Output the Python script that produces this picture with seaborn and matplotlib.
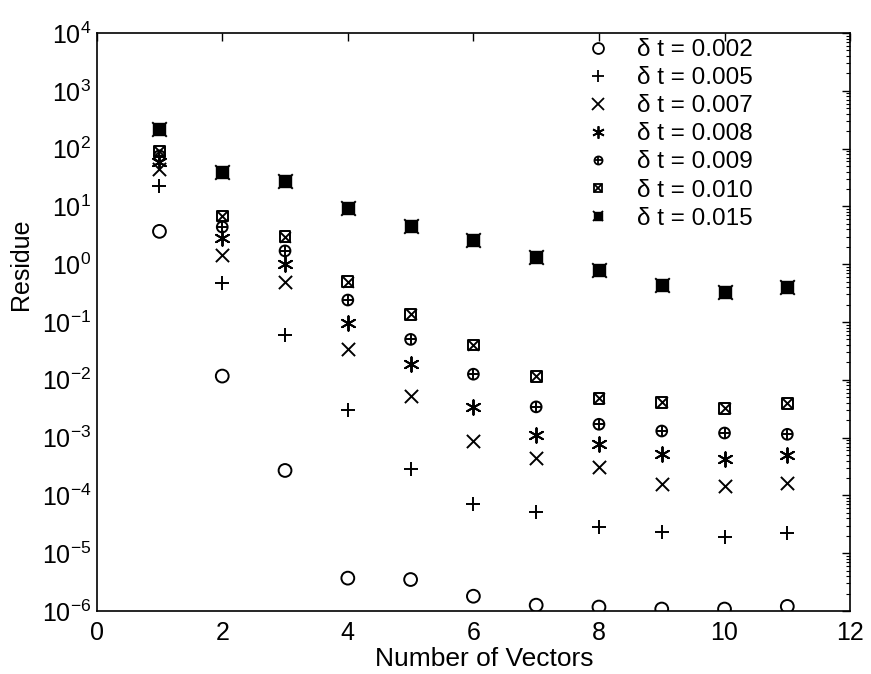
import numpy as np
import matplotlib
matplotlib.use('Agg')
import matplotlib.pyplot as plt
import seaborn as sns
from matplotlib.lines import Line2D
from matplotlib.ticker import FixedLocator, NullFormatter
from matplotlib.legend_handler import HandlerTuple

sns.set_style('white')
plt.rcParams['font.family'] = ['Liberation Sans', 'DejaVu Sans']
plt.rcParams['mathtext.fontset'] = 'custom'
plt.rcParams['mathtext.rm'] = 'Liberation Sans'
plt.rcParams['mathtext.it'] = 'Liberation Sans:italic'
plt.rcParams['text.color'] = 'black'
plt.rcParams['axes.labelcolor'] = 'black'
plt.rcParams['xtick.color'] = 'black'
plt.rcParams['ytick.color'] = 'black'

# Data
n_vectors = [1, 2, 3, 4, 5, 6, 7, 8, 9, 10, 11]
labels = ['δ t = 0.002', 'δ t = 0.005', 'δ t = 0.007', 'δ t = 0.008',
          'δ t = 0.009', 'δ t = 0.010', 'δ t = 0.015']
res_002 = [3.7, 0.0116, 2.7e-4, 3.7e-6, 3.5e-6, 1.8e-6, 1.26e-6, 1.17e-6, 1.08e-6, 1.08e-6, 1.2e-6]
res_005 = [23, 0.47, 0.059, 0.003, 2.9e-4, 7e-5, 5.1e-5, 2.8e-5, 2.3e-5, 1.9e-5, 2.2e-5]
res_007 = [45, 1.43, 0.5, 0.034, 0.0053, 8.8e-4, 4.5e-4, 3.1e-4, 1.6e-4, 1.45e-4, 1.65e-4]
res_008 = [58, 2.8, 1.0, 0.095, 0.0186, 0.0034, 0.0011, 7.7e-4, 5.1e-4, 4.2e-4, 5e-4]
res_009 = [75, 4.4, 1.7, 0.24, 0.05, 0.0125, 0.0034, 0.0017, 0.0013, 0.0012, 0.00114]
res_010 = [90, 6.8, 3.0, 0.5, 0.135, 0.04, 0.0115, 0.0048, 0.0041, 0.0032, 0.0039]
res_015 = [218, 40, 28, 9.5, 4.5, 2.6, 1.35, 0.8, 0.43, 0.33, 0.40]

all_res = [res_002, res_005, res_007, res_008, res_009, res_010, res_015]

# marker layers for each series: (marker, filled, size)
mk_star = (6, 2, 0)
layers = [
    [('o', False, 85)],
    [('+', False, 110)],
    [('x', False, 90)],
    [(mk_star, False, 110)],
    [('o', False, 60), ('+', False, 60)],
    [('s', False, 60), ('x', False, 60)],
    [('s', True, 70), ('x', False, 110)],
]

fig, ax = plt.subplots(figsize=(8.71, 6.74), dpi=100)
fig.subplots_adjust(left=0.111, right=0.976, top=0.951, bottom=0.0935)

for vals, lay in zip(all_res, layers):
    for m, filled, s in lay:
        if filled:
            sns.scatterplot(x=n_vectors, y=vals, marker=m, s=s, color='black',
                            edgecolor='black', linewidth=1.0, ax=ax, legend=False, zorder=3)
        elif m in ('o', 's'):
            sns.scatterplot(x=n_vectors, y=vals, marker=m, s=s, facecolor='none',
                            edgecolor='black', linewidth=1.4, ax=ax, legend=False, zorder=3)
        else:
            sns.scatterplot(x=n_vectors, y=vals, marker=m, s=s, color='black',
                            linewidth=1.4, ax=ax, legend=False, zorder=3)

ax.set_yscale('log')
ax.set_xlim(0, 12)
ax.set_ylim(1e-6, 1e4)
ax.set_xticks([0, 2, 4, 6, 8, 10, 12])
decades = [10.0 ** k for k in range(-6, 5)]
ax.yaxis.set_major_locator(FixedLocator(decades))
ax.yaxis.set_minor_locator(FixedLocator([d * m for d in decades[:-1] for m in range(2, 10)]))
ax.yaxis.set_minor_formatter(NullFormatter())
ax.tick_params(which='both', direction='in', top=True, right=True, labelsize=18,
               color='black', labelcolor='black')
ax.tick_params(which='major', length=6, width=1)
ax.tick_params(which='minor', length=3, width=0.8)
ax.tick_params(axis='x', pad=7)
ax.tick_params(axis='y', pad=4)
for sp in ax.spines.values():
    sp.set_color('black')
    sp.set_linewidth(1.2)

ax.set_xlabel('Number of Vectors', fontsize=19, color='black')
ax.set_ylabel('Residue', fontsize=18, color='black')
ax.xaxis.set_label_coords(0.515, -0.063)
ax.yaxis.set_label_coords(-0.084, 0.6)

# legend handles
handles = []
for lay in layers:
    parts = []
    for m, filled, s in lay:
        ms = np.sqrt(s) * (0.85 if len(lay) == 1 else 0.75)
        if filled:
            parts.append(Line2D([], [], ls='none', marker=m, ms=ms, color='black'))
        else:
            parts.append(Line2D([], [], ls='none', marker=m, ms=ms, mfc='none',
                                mec='black', mew=1.3, color='black'))
    handles.append(tuple(parts) if len(parts) > 1 else parts[0])

ax.legend(handles, labels, loc='upper left', bbox_to_anchor=(0.673, 0.942),
          bbox_transform=fig.transFigure, frameon=False, fontsize=17.5,
          labelcolor='black',
          handler_map={tuple: HandlerTuple(ndivide=1)}, handlelength=1.0,
          handletextpad=1.1, labelspacing=0.25, borderaxespad=0, borderpad=0)

fig.savefig('out.png', dpi=100)
